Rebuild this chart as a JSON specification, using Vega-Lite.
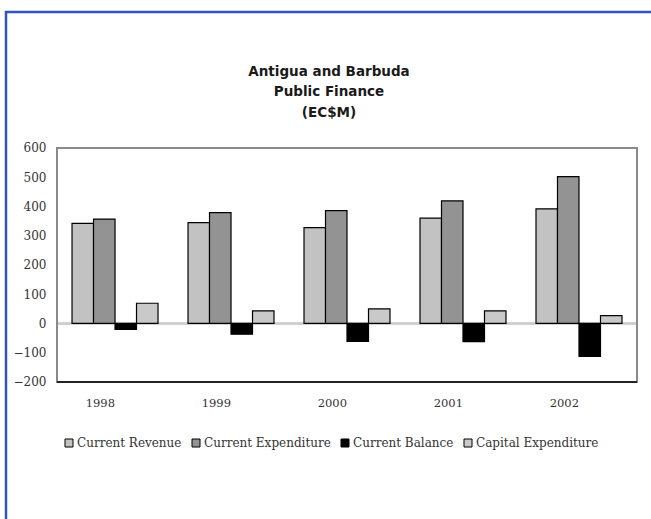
{
  "$schema": "https://vega.github.io/schema/vega-lite/v6.json",
  "width": 660,
  "height": 522,
  "autosize": {"type": "none"},
  "padding": {"left": 6, "top": 12, "right": -15, "bottom": -15},
  "background": "#ffffff",
  "config": {
    "view": {"stroke": "#3355bb", "strokeWidth": 2.5},
    "axis": {
      "labelFont": "DejaVu Serif",
      "labelFontSize": 11.5,
      "labelColor": "#333333",
      "domain": false,
      "ticks": false,
      "tickSize": 0,
      "grid": false
    }
  },
  "title": {
    "text": ["Antigua and Barbuda", "Public Finance", "(EC$M)"],
    "font": "DejaVu Sans",
    "fontSize": 13.5,
    "fontWeight": "bold",
    "color": "#1a1a1a",
    "lineHeight": 20.5,
    "anchor": "middle",
    "frame": "group",
    "offset": -107,
    "dx": -7
  },
  "data": {
    "values": [
      {"year": "1998", "series": "Current Revenue", "value": 342},
      {"year": "1998", "series": "Current Expenditure", "value": 357},
      {"year": "1998", "series": "Current Balance", "value": -20},
      {"year": "1998", "series": "Capital Expenditure", "value": 69},
      {"year": "1999", "series": "Current Revenue", "value": 345},
      {"year": "1999", "series": "Current Expenditure", "value": 379},
      {"year": "1999", "series": "Current Balance", "value": -37},
      {"year": "1999", "series": "Capital Expenditure", "value": 43},
      {"year": "2000", "series": "Current Revenue", "value": 328},
      {"year": "2000", "series": "Current Expenditure", "value": 386},
      {"year": "2000", "series": "Current Balance", "value": -61},
      {"year": "2000", "series": "Capital Expenditure", "value": 50},
      {"year": "2001", "series": "Current Revenue", "value": 360},
      {"year": "2001", "series": "Current Expenditure", "value": 419},
      {"year": "2001", "series": "Current Balance", "value": -62},
      {"year": "2001", "series": "Capital Expenditure", "value": 43},
      {"year": "2002", "series": "Current Revenue", "value": 392},
      {"year": "2002", "series": "Current Expenditure", "value": 502},
      {"year": "2002", "series": "Current Balance", "value": -113},
      {"year": "2002", "series": "Capital Expenditure", "value": 27}
    ]
  },
  "layer": [
    {
      "mark": {"type": "rule", "color": "#cfcfcf", "strokeWidth": 1.5},
      "encoding": {
        "x": {"datum": "1998", "type": "nominal", "bandPosition": 0, "title": null},
        "x2": {"datum": "2002", "bandPosition": 1},
        "y": {"datum": 0, "type": "quantitative", "title": null}
      }
    },
    {
      "mark": {"type": "bar", "stroke": "#000000", "strokeWidth": 1.2},
      "encoding": {
        "x": {
          "field": "year",
          "type": "nominal",
          "title": null,
          "scale": {"paddingInner": 0, "paddingOuter": 0.345, "align": 0.6375},
          "axis": {"labelAngle": 0, "offset": -152, "labelPadding": 21, "title": null}
        },
        "xOffset": {
          "field": "series",
          "sort": ["Current Revenue", "Current Expenditure", "Current Balance", "Capital Expenditure"],
          "scale": {"paddingInner": 0, "paddingOuter": 0.698}
        },
        "y": {
          "field": "value",
          "type": "quantitative",
          "stack": null,
          "title": null,
          "scale": {"domain": [-720, 1065], "nice": false},
          "axis": {
            "values": [-200, -100, 0, 100, 200, 300, 400, 500, 600],
            "offset": -51,
            "labelPadding": 11,
            "labelFontSize": 12,
            "title": null
          }
        },
        "color": {
          "field": "series",
          "type": "nominal",
          "scale": {
            "domain": ["Current Revenue", "Current Expenditure", "Current Balance", "Capital Expenditure"],
            "range": ["#c2c2c2", "#939393", "#000000", "#c9c9c9"]
          },
          "legend": {
            "orient": "none",
            "legendX": 57,
            "legendY": 425,
            "direction": "horizontal",
            "columns": 4,
            "title": null,
            "symbolType": "square",
            "symbolSize": 64,
            "symbolStrokeColor": "#000000",
            "symbolStrokeWidth": 1,
            "labelFont": "DejaVu Serif",
            "labelFontSize": 12,
            "labelColor": "#333333",
            "labelOffset": 2,
            "columnPadding": 8
          }
        }
      }
    },
    {
      "mark": {"type": "rect", "fill": null, "stroke": "#8a8a8a", "strokeWidth": 1.5},
      "encoding": {
        "x": {"datum": "1998", "type": "nominal", "bandPosition": 0, "title": null},
        "x2": {"datum": "2002", "bandPosition": 1},
        "y": {"datum": 600, "type": "quantitative", "title": null},
        "y2": {"datum": -200}
      }
    },
    {
      "mark": {"type": "rule", "color": "#222222", "strokeWidth": 2},
      "encoding": {
        "x": {"datum": "1998", "type": "nominal", "bandPosition": 0, "title": null},
        "x2": {"datum": "2002", "bandPosition": 1},
        "y": {"datum": -200, "type": "quantitative", "title": null}
      }
    }
  ]
}
